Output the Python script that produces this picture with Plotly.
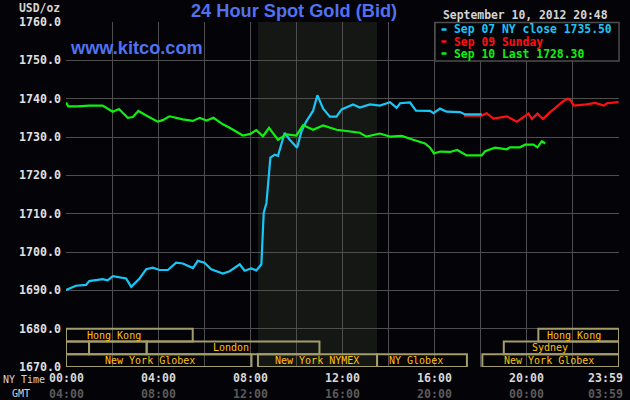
import plotly.graph_objects as go

# ---------------- data (hours in NY time, price USD/oz) ----------------
cyan_h = [0, 0.43, 0.87, 1.01, 1.59, 1.81, 2.03, 2.61, 2.83, 3.19, 3.48, 3.77, 4.06, 4.42,
          4.78, 5.07, 5.51, 5.72, 6.01, 6.30, 6.81, 7.10, 7.54, 7.75, 8.04, 8.26, 8.48,
          8.52, 8.58, 8.70, 8.81, 8.87, 9.06, 9.20, 9.49, 9.71, 10.03, 10.22, 10.43,
          10.72, 10.91, 11.16, 11.45, 11.74, 11.96, 12.46, 12.75, 13.19, 13.62, 14.06,
          14.35, 14.50, 14.93, 15.19, 15.80, 15.95, 16.23, 16.52, 17.10, 17.32, 18.04]
cyan_v = [1690.1, 1691.2, 1691.4, 1692.4, 1692.9, 1692.6, 1693.7, 1693.1, 1690.9, 1693.1,
          1695.5, 1695.9, 1695.3, 1695.3, 1697.2, 1697.0, 1695.8, 1697.7, 1697.2, 1695.5,
          1694.4, 1695.0, 1696.8, 1695.1, 1695.7, 1695.2, 1696.8, 1703.2, 1710.2, 1712.8,
          1719.7, 1724.6, 1725.4, 1725.1, 1731.1, 1729.3, 1727.2, 1731.5, 1734.1, 1736.8,
          1740.9, 1737.4, 1735.3, 1735.3, 1737.2, 1738.5, 1737.7, 1738.5, 1738.2, 1739.1,
          1737.6, 1738.8, 1739.0, 1736.9, 1736.8, 1736.2, 1737.4, 1736.6, 1736.5, 1735.9,
          1735.9]

red_h = [17.27, 18.04, 18.26, 18.55, 19.13, 19.57, 20.07, 20.22, 20.46, 20.70, 20.94,
         21.30, 21.59, 21.77, 21.90, 22.03, 22.60, 22.97, 23.33, 23.48, 23.98]
red_v = [1735.6, 1735.6, 1736.2, 1734.8, 1735.4, 1734.0, 1736.1, 1734.7, 1736.1, 1734.7,
         1736.1, 1737.9, 1739.4, 1740.0, 1739.6, 1738.2, 1738.5, 1738.9, 1738.2, 1738.8,
         1739.1]

green_h = [0, 0.1, 0.5, 1.0, 1.59, 2.03, 2.3, 2.68, 2.9, 3.14, 3.48, 3.98, 4.2, 4.49,
           5.07, 5.5, 5.8, 6.1, 6.4, 6.81, 7.1, 7.68, 8.0, 8.26, 8.55, 8.81, 9.2, 9.57,
           10.0, 10.29, 10.72, 11.16, 11.74, 12.2, 12.75, 13.04, 13.62, 14.06, 14.57,
           15.07, 15.58, 15.8, 15.97, 16.23, 16.67, 16.98, 17.39, 18.04, 18.19, 18.62,
           19.13, 19.27, 19.7, 19.93, 20.29, 20.46, 20.65, 20.8]
green_v = [1739.0, 1738.0, 1738.0, 1738.2, 1738.2, 1736.6, 1737.3, 1735.0, 1735.2, 1736.8,
           1735.6, 1734.0, 1734.4, 1735.4, 1734.6, 1734.2, 1735.0, 1734.3, 1735.0, 1733.3,
           1732.4, 1730.4, 1730.8, 1731.8, 1730.2, 1732.4, 1729.3, 1730.7, 1730.4, 1733.1,
           1731.9, 1733.0, 1731.9, 1731.5, 1731.1, 1730.1, 1730.9, 1730.1, 1730.3, 1729.3,
           1728.3, 1727.2, 1725.7, 1726.2, 1726.1, 1726.6, 1725.2, 1725.2, 1726.3, 1727.2,
           1726.8, 1727.3, 1727.3, 1728.0, 1728.0, 1727.3, 1728.9, 1728.3]

series_names = ["Sep 07 NY close 1735.50", "Sep 09 Sunday", "Sep 10 Last 1728.30"]
series_colors = ["#19c6f5", "#ff1010", "#10f010"]

ny_ticks = [0, 4, 8, 12, 16, 20, 24]
ny_labels = ["00:00", "04:00", "08:00", "12:00", "16:00", "20:00", "23:59"]
gmt_labels = ["04:00", "08:00", "12:00", "16:00", "20:00", "00:00", "03:59"]

# sessions: (row, start, end, label, label_center)
sessions = [
    (0, 0, 5.5, "Hong Kong", 2.1),
    (0, 20.5, 24, "Hong Kong", 22.06),
    (1, 0, 1.0, "", None),
    (1, 1.0, 3.5, "", None),
    (1, 3.5, 11.0, "London", 7.15),
    (1, 19.0, 24, "Sydney", 21.0),
    (2, 0, 8.05, "New York Globex", 3.65),
    (2, 8.33, 13.5, "New York NYMEX", 10.9),
    (2, 13.5, 17.4, "NY Globex", 15.2),
    (2, 18.07, 24, "New York Globex", 20.97),
]
nymex_open, nymex_close = 8.33, 13.5

# ---------------- layout helpers ----------------
W, H = 630, 400
L, R, T, B = 66, 11, 22, 33
PW, PH = W - L - R, H - T - B
def px(xp):
    return (xp - L) / PW
def py(yp):
    return 1 - (yp - T) / PH

MONO = "DejaVu Sans Mono"
SANS = "Liberation Sans"
BG = "#040307"

fig = go.Figure()
order = [(cyan_h, cyan_v, 0), (red_h, red_v, 1), (green_h, green_v, 2)]
for hx, vy, i in [order[1], order[0], order[2]]:
    fig.add_trace(go.Scatter(x=hx, y=vy, mode="lines", name=series_names[i],
                             line=dict(color=series_colors[i], width=2.2),
                             showlegend=False, hoverinfo="skip"))

shapes = []
# NYMEX shaded region
shapes.append(dict(type="rect", xref="x", yref="paper", x0=nymex_open, x1=nymex_close,
                   y0=0, y1=1, fillcolor="#141714", line=dict(width=0), layer="below"))
# session boxes
row_edges = [(1680, 1676.67), (1676.67, 1673.33), (1673.33, 1670)]
annotations = []
for row, s, e, lab, cx in sessions:
    y1, y0 = row_edges[row]
    shapes.append(dict(type="rect", xref="x", yref="y", x0=s, x1=e, y0=y0, y1=y1,
                       line=dict(color="#a39d6b", width=2), fillcolor="rgba(0,0,0,0)",
                       layer="above"))
    if lab:
        annotations.append(dict(x=cx, y=(y0 + y1) / 2, xref="x", yref="y", text=lab,
                                showarrow=False, font=dict(family=MONO, size=10,
                                                           color="#ffc010")))
# legend box
shapes.append(dict(type="rect", xref="paper", yref="paper", x0=px(435), x1=px(619),
                   y0=py(61), y1=py(22.5), fillcolor=BG,
                   line=dict(color="#4e4e4e", width=1.5), layer="above"))
leg_y = [29.5, 41.5, 53.5]
for i, name in enumerate(series_names):
    shapes.append(dict(type="line", xref="paper", yref="paper", x0=px(441.5), x1=px(446.5),
                       y0=py(leg_y[i]), y1=py(leg_y[i]),
                       line=dict(color=series_colors[i], width=2.5), layer="above"))
    annotations.append(dict(x=px(452), y=py(leg_y[i]), xref="paper", yref="paper",
                            xanchor="left", yanchor="middle", text=name, showarrow=False,
                            font=dict(family=MONO, size=11.4, color=series_colors[i],
                                      weight="bold")))
annotations.append(dict(x=px(440.5), y=py(15), xref="paper", yref="paper", xanchor="left",
                        yanchor="middle", text="September 10, 2012 20:48", showarrow=False,
                        font=dict(family=MONO, size=11.4, color="#d4d4d4", weight="bold")))
# title and site
annotations.append(dict(x=px(294), y=py(11), xref="paper", yref="paper", xanchor="center",
                        yanchor="middle", text="24 Hour Spot Gold (Bid)", showarrow=False,
                        font=dict(family=SANS, size=18.2, color="#5072f0", weight="bold")))
annotations.append(dict(x=px(68), y=py(48.5), xref="paper", yref="paper", xanchor="left",
                        yanchor="middle", text="www.kitco.com", showarrow=False,
                        font=dict(family=SANS, size=18.2, color="#5072f0", weight="bold")))
annotations.append(dict(x=px(62), y=py(8), xref="paper", yref="paper", xanchor="right",
                        yanchor="middle", text="USD/oz", showarrow=False,
                        font=dict(family=MONO, size=11.4, color="#d4d4d4", weight="bold")))
# x labels (two rows)
for i, t in enumerate(ny_ticks):
    anchor = "right" if i == len(ny_ticks) - 1 else "center"
    xs = 6 if anchor == "right" else 0
    annotations.append(dict(x=t, y=py(377.5), xref="x", yref="paper", xanchor=anchor,
                            xshift=xs, yanchor="middle", text=ny_labels[i], showarrow=False,
                            font=dict(family=MONO, size=11.6, color="#d8d8d8", weight="bold")))
    annotations.append(dict(x=t, y=py(394), xref="x", yref="paper", xanchor=anchor,
                            xshift=xs, yanchor="middle", text=gmt_labels[i], showarrow=False,
                            font=dict(family=MONO, size=11.6, color="#5a5a5a", weight="bold")))
annotations.append(dict(x=px(24), y=py(379), xref="paper", yref="paper", xanchor="center",
                        yanchor="middle", text="NY Time", showarrow=False,
                        font=dict(family=MONO, size=10, color="#d4d4d4")))
annotations.append(dict(x=px(21), y=py(393), xref="paper", yref="paper", xanchor="center",
                        yanchor="middle", text="GMT", showarrow=False,
                        font=dict(family=MONO, size=10, color="#d4d4d4")))

fig.update_layout(
    width=W, height=H, margin=dict(l=L, r=R, t=T, b=B),
    paper_bgcolor=BG, plot_bgcolor=BG,
    shapes=shapes, annotations=annotations, showlegend=False,
    xaxis=dict(range=[0, 24], tickvals=list(range(0, 25, 2)), showticklabels=False,
               showgrid=True, gridcolor="#4e4e4e", gridwidth=1, zeroline=False,
               showline=False, ticks=""),
    yaxis=dict(range=[1670, 1760], tickvals=list(range(1670, 1761, 10)),
               tickformat=".1f", showgrid=True, gridcolor="#4e4e4e", gridwidth=1,
               zeroline=False, showline=False, ticks="", ticklabelstandoff=4,
               tickfont=dict(family=MONO, size=11.6, color="#e0e0e0", weight="bold")),
)
fig.write_html("out.html")
